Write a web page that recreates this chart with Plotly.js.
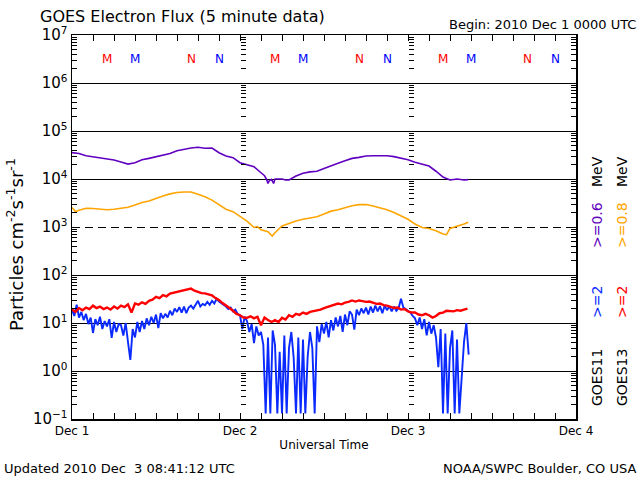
<!DOCTYPE html>
<html><head><meta charset="utf-8">
<script src="https://cdn.plot.ly/plotly-3.0.1.min.js"></script>
<style>html,body{margin:0;padding:0;background:#fff}#chart{width:640px;height:480px}</style>
</head><body><div id="chart"></div>
<script>
// ---- data (hours since 2010-12-01 00:00 UTC, flux in particles cm^-2 s^-1 sr^-1) ----
const purpleHours = [0,1,2,3,4,5,6,7,8,9,10,11,12,13,14,15,16,17,18,19,20,21,22,23,24,25,26,27,
  27.5,27.8,28,28.2,28.5,28.8,29,29.5,30,30.5,31,
  32,33,34,35,36,37,38,39,40,41,42,43,44,45,46,47,48,49,50,51,52,53,54,55,56,56.6];
const purpleFlux = [35500,33900,30600,29200,28200,26900,24900,22600,20400,21900,
  25100,26900,29200,31600,33900,38900,42200,44300,45700,43700,
  44300,35300,30200,27800,21900,20000,18100,13500,
  11700,9800,8100,9300,9800,8100,10000,10000,10000,9500,9550,
  11500,13200,14100,14500,16600,19100,21400,24000,26900,28200,
  30200,30600,31100,30600,29200,27500,25100,22400,20400,18600,
  14500,11000,9550,10000,9550,9700];

const orangeHours = [0,0.5,1,2,3,4,5,6,7,8,9,10,11,12,13,14,15,16,17,18,19,20,21,22,23,24,25,26,
  26.5,27,28,28.6,29,
  30,31,32,33,34,35,36,37,38,39,40,41,42,43,44,45,46,47,48,49,50,51,52,53,
  53.5,54,55,56,56.6];
const orangeFlux = [2530,2090,2240,2450,2430,2340,2290,2340,2450,2570,2870,3240,
  3470,3950,4430,4900,5250,5370,5370,4790,4270,3630,
  2870,2340,2090,1700,1330,977,
  1020,871,794,646,759,
  1050,1200,1330,1450,1550,1640,1860,2140,2290,2510,
  2780,2920,2950,2750,2510,2290,2000,1700,1450,1150,
  977,933,832,714,
  692,933,1020,1150,1260];

// GOES13 >=2 MeV, 30-minute readings from 00:00
const redStepHours = 0.5;
const redFlux = [
  19.0,17.0,20.5,18.5,21.0,19.5,23.0,20.5,22.0,19.5,
  21.0,19.0,22.0,20.0,23.0,21.5,24.5,16.5,25.5,24.0,
  27.0,25.0,29.0,30.5,35.0,33.0,38.0,36.0,41.0,42.5,
  44.0,46.0,48.0,50.0,52.0,47.0,44.5,42.0,41.5,39.0,
  37.5,33.0,30.0,26.0,23.5,20.5,18.0,15.5,14.5,13.0,
  12.8,13.8,12.5,13.5,9.0,13.0,11.5,10.5,11.5,10.5,
  12.8,11.8,14.5,13.5,15.5,14.8,16.5,15.5,17.0,17.5,
  18.5,19.0,20.5,21.5,23.0,24.0,25.5,24.5,26.5,27.5,
  29.5,28.0,29.5,28.5,27.5,28.0,26.5,25.0,25.5,23.5,
  23.0,21.5,20.5,21.0,19.0,19.5,17.5,16.5,16.5,15.0,
  14.5,15.5,14.5,13.0,14.0,16.0,16.5,18.0,18.0,17.5,
  18.5,18.0,19.0,20.0];

// GOES11 >=2 MeV, 20-minute readings from 00:00
const blueStepHours = 1/3;
const blueFlux = [
  19.0,14.0,24.0, 13.0,17.0,11.5, 15.5,9.5,13.0, 6.2,12.0,9.0, 13.5,7.5,11.0,
  8.5,12.0,4.9, 10.5,6.5,9.5, 9.0,5.5,10.0, 4.0,1.7,7.5, 5.0,10.5,6.5,
  11.0,7.5,12.5, 9.0,13.5,10.0, 15.0,7.8,16.0, 12.5,15.5,13.0, 18.0,14.5,20.0,
  17.0,21.5,16.5, 22.0,16.0,21.0, 23.0,20.0,25.0, 29.0,22.0,25.0, 23.5,27.5,24.0,
  29.0,25.5,32.0, 28.0,26.0,24.0, 22.0,19.5,21.0, 17.5,19.0,15.5, 14.5,7.5,13.5,
  11.0,6.5,9.5, 3.8,8.5,5.5, 6.5,3.5,0.13, 5.0,0.13,7.0, 3.5,0.13,2.5,
  0.13,5.5,0.13, 3.0,6.5,1.9, 0.13,5.0,0.13, 4.5,0.13,2.0, 6.5,3.0,0.13,
  8.5,4.0,9.5, 6.0,10.5,5.0, 11.5,7.0,13.0, 8.5,14.0,6.5, 15.0,9.0,17.5,
  15.0,7.3,19.0, 14.5,20.0,16.0, 21.0,15.0,22.0, 16.5,23.0,17.5, 22.5,16.0,23.0,
  18.5,22.5,17.5, 22.0,18.0,20.5, 32.0,21.0,19.5, 18.0,16.5,14.0, 12.5,9.0,13.0,
  7.5,12.0,5.5, 10.5,6.0,9.0, 5.0,1.2,7.5, 0.13,6.0,0.13, 3.0,7.0,0.13,
  4.5,0.13,0.78, 4.0,10.0,2.2];

const dayLabels = ['Dec 1','Dec 2','Dec 3','Dec 4'];
const decadeExps = [-1,0,1,2,3,4,5,6,7];
const solidGridValues = [1,10,100,1e4,1e5,1e6];
const dashedGridValues = [1000];
// local midnight (M) / noon (N) markers, hour of day UTC
const goes13MarkHours = [5,17];
const goes11MarkHours = [9,21];
const markLetters = ['M','N'];

// ---- helpers ----
const t0 = Date.UTC(2010,11,1);
function toDate(h){ return new Date(t0 + Math.round(h*3600000)).toISOString().replace('T',' ').slice(0,19); }

const colPurple = '#6000c0', colOrange = '#ffa500', colRed = '#ff0000', colBlue = '#0a2aff';

const redHours = redFlux.map((_, i) => i*redStepHours);
const blueHours = blueFlux.map((_, i) => i*blueStepHours);

const traces = [
  {x: purpleHours.map(toDate), y: purpleFlux, mode:'lines', line:{color:colPurple, width:1.6}, hoverinfo:'skip'},
  {x: orangeHours.map(toDate), y: orangeFlux, mode:'lines', line:{color:colOrange, width:1.6}, hoverinfo:'skip'},
  {x: blueHours.map(toDate), y: blueFlux, mode:'lines', line:{color:colBlue, width:1.9}, hoverinfo:'skip'},
  {x: redHours.map(toDate), y: redFlux, mode:'lines', line:{color:colRed, width:2.4}, hoverinfo:'skip'}
];
// empty carriers so the overlay axes (grid lines, day-boundary ticks) get drawn
['y2','y3','y4','y5'].forEach(ya => traces.unshift({x:[], y:[], yaxis: ya, mode:'lines', hoverinfo:'skip', showlegend:false}));

const decadeVals = decadeExps.map(e => Math.pow(10, e));
const decadeText = decadeExps.map(e => '10<sup>' + (e < 0 ? '−' + (-e) : e) + '</sup>');
const minorYVals = [];
decadeExps.forEach(e => { if (e < 7) for (let m = 2; m <= 9; m++) minorYVals.push(m * Math.pow(10, e)); });
const allYTicks = decadeVals.concat(minorYVals);

const dayTicks = dayLabels.map((_, i) => toDate(24*i));
const threeHourTicks = [];
for (let h = 0; h <= 72; h += 3) threeHourTicks.push(toDate(h));

const baseLog = {type:'log', range:[-1,7], zeroline:false, showticklabels:false, fixedrange:true};

const annotations = [];
for (let d = 0; d < 3; d++) {
  goes13MarkHours.forEach((h, k) => annotations.push({x: toDate(24*d + h), y: 0.961, xref:'x', yref:'paper',
    text: markLetters[k], showarrow:false, font:{size:12, color:colRed}}));
  goes11MarkHours.forEach((h, k) => annotations.push({x: toDate(24*d + h), y: 0.961, xref:'x', yref:'paper',
    text: markLetters[k], showarrow:false, font:{size:12, color:'#0000ff'}}));
}
const px = v => (v - 72) / 504;
const py = v => (419 - v) / 384;
annotations.push(
  {xref:'paper', yref:'paper', x: px(638), y: py(24), xanchor:'right', yanchor:'middle', showarrow:false,
   text:'Begin: 2010 Dec 1 0000 UTC', font:{size:13}},
  {xref:'paper', yref:'paper', x: px(2), y: py(468), xanchor:'left', yanchor:'middle', showarrow:false,
   text:'Updated 2010 Dec  3 08:41:12 UTC', font:{size:13}},
  {xref:'paper', yref:'paper', x: px(638), y: py(468), xanchor:'right', yanchor:'middle', showarrow:false,
   text:'NOAA/SWPC Boulder, CO USA', font:{size:13}},
  {xref:'paper', yref:'paper', x: px(15), y: py(245), xanchor:'center', yanchor:'middle', showarrow:false, textangle:-90,
   text:'Particles cm<sup>-2</sup>s<sup>-1</sup>sr<sup>-1</sup>', font:{size:18}}
);
const legendItems = [
  {col:597, y:172, text:'MeV', color:'#000'},
  {col:597, y:225, text:'&gt;=0.6', color:colPurple},
  {col:597, y:302, text:'&gt;=2', color:colBlue},
  {col:597, y:378, text:'GOES11', color:'#000'},
  {col:622, y:172, text:'MeV', color:'#000'},
  {col:622, y:225, text:'&gt;=0.8', color:colOrange},
  {col:622, y:302, text:'&gt;=2', color:colRed},
  {col:622, y:378, text:'GOES13', color:'#000'}
];
legendItems.forEach(it => annotations.push({xref:'paper', yref:'paper', x: px(it.col), y: py(it.y),
  xanchor:'center', yanchor:'middle', showarrow:false, textangle:-90, text: it.text, font:{size:14, color: it.color}}));

const layout = {
  width:640, height:480,
  margin:{l:72, r:64, t:35, b:61, pad:0},
  paper_bgcolor:'#ffffff', plot_bgcolor:'#ffffff',
  showlegend:false,
  font:{family:'DejaVu Sans, sans-serif', size:12, color:'#000'},
  title:{text:'GOES Electron Flux (5 minute data)', xref:'container', yref:'container',
         x: 40/640, xanchor:'left', y: 1 - 16/480, yanchor:'middle', font:{size:16}},
  xaxis:{type:'date', range:[toDate(0), toDate(72)], tickmode:'array', tickvals: dayTicks, ticktext: dayLabels,
    ticks:'inside', ticklen:6, tickcolor:'#000', tickwidth:1, showline:true, linecolor:'#000', linewidth:1.5, mirror:'allticks',
    showgrid:false, zeroline:false, tickfont:{size:12}, fixedrange:true,
    minor:{tickmode:'array', tickvals: threeHourTicks, ticks:'inside', ticklen:5, tickcolor:'#000', tickwidth:1, showgrid:false},
    title:{text:'Universal Time', font:{size:12}, standoff:3}},
  yaxis:Object.assign({}, baseLog, {tickmode:'array', tickvals: decadeVals, ticktext: decadeText, showticklabels:true,
    ticks:'inside', ticklen:6, tickcolor:'#000', tickwidth:1, showline:true, linecolor:'#000', linewidth:1.5, mirror:'allticks',
    showgrid:false, tickfont:{size:15},
    minor:{tickmode:'array', tickvals: minorYVals, ticks:'inside', ticklen:5, tickcolor:'#000', tickwidth:1, showgrid:false}}),
  yaxis2:Object.assign({}, baseLog, {overlaying:'y', tickmode:'array', tickvals: solidGridValues, ticks:'',
    showgrid:true, gridcolor:'#000', gridwidth:1, showline:false}),
  yaxis3:Object.assign({}, baseLog, {overlaying:'y', tickmode:'array', tickvals: dashedGridValues, ticks:'',
    showgrid:true, gridcolor:'#000', gridwidth:1, griddash:'8px,5px', showline:false}),
  yaxis4:Object.assign({}, baseLog, {overlaying:'y', anchor:'free', position:1/3, side:'left', tickmode:'array',
    tickvals: allYTicks, ticks:'inside', ticklen:5, tickcolor:'#000', tickwidth:1, showgrid:false, showline:false}),
  yaxis5:Object.assign({}, baseLog, {overlaying:'y', anchor:'free', position:2/3, side:'left', tickmode:'array',
    tickvals: allYTicks, ticks:'inside', ticklen:5, tickcolor:'#000', tickwidth:1, showgrid:false, showline:false}),
  annotations: annotations
};

Plotly.newPlot('chart', traces, layout, {staticPlot:true, displayModeBar:false});
</script></body></html>
